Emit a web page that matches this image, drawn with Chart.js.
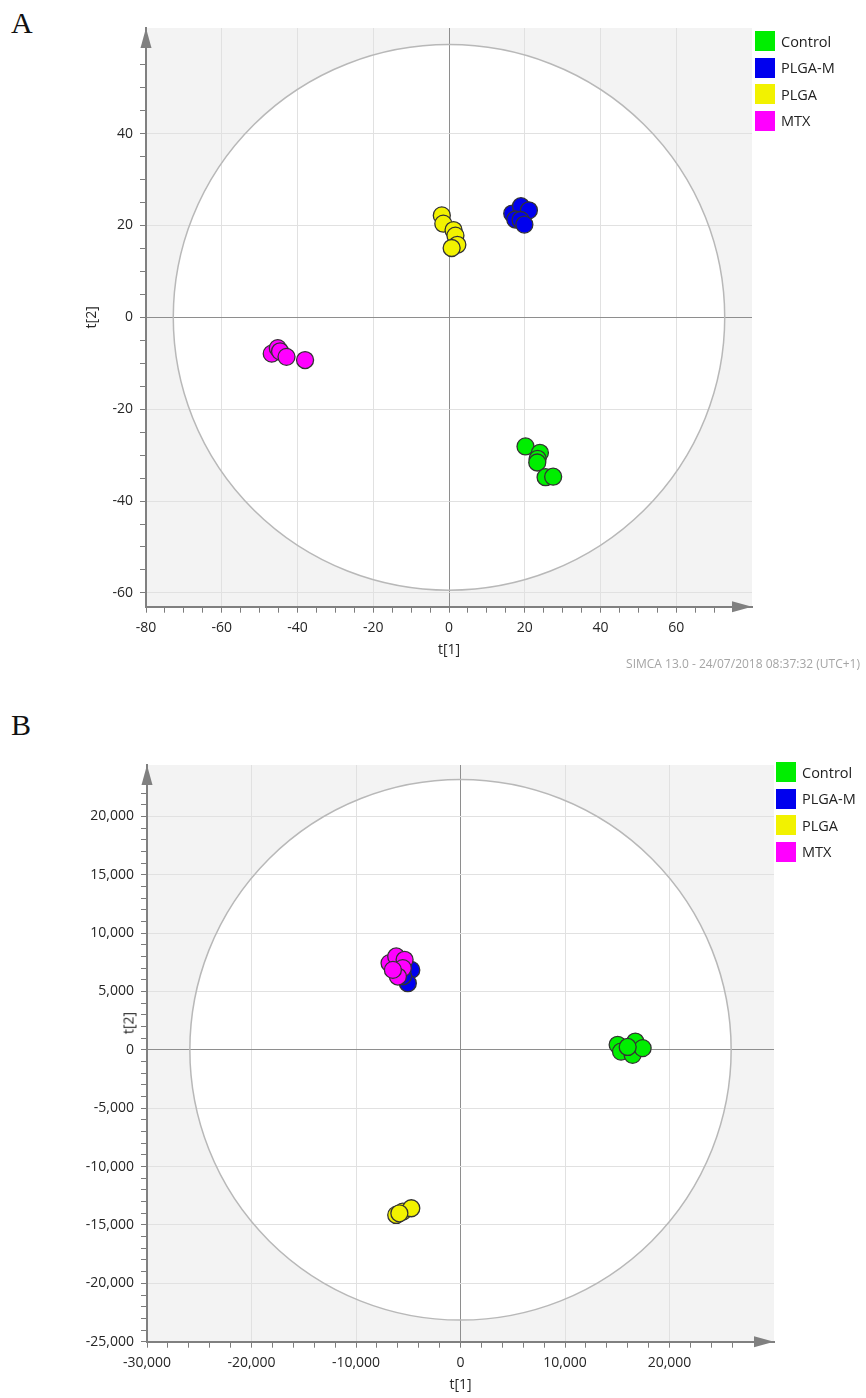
<!DOCTYPE html>
<html>
<head>
<meta charset="utf-8">
<title>SIMCA score plots</title>
<script src="https://cdn.jsdelivr.net/npm/chart.js@4"></script>
<style>
  body { margin: 0; width: 866px; height: 1398px; background: #fff; position: relative; overflow: hidden; font-family: 'Open Sans', sans-serif; }
  canvas { position: absolute; left: 0; }
  .tag { position: absolute; left: 11px; font: 30px 'Liberation Serif', serif; color: #111; line-height: 1; }
  .legend { position: absolute; font-size: 14.5px; color: #222; }
  .legend div { height: 26.5px; display: flex; align-items: center; }
  .legend span { display: inline-block; width: 20px; height: 20px; margin-right: 6px; }
  .stamp { position: absolute; right: 6px; top: 655px; font-size: 12px; color: #a5a5a5; }
  .ytitle { position: absolute; font-size: 14px; color: #262626; transform: translate(-50%, -50%) rotate(-90deg); white-space: nowrap; }
</style>
</head>
<body>
<div class="tag" style="top:8px">A</div>
<div class="tag" style="top:710px">B</div>
<canvas id="chartA" width="866" height="700" style="top:0"></canvas>
<canvas id="chartB" width="866" height="698" style="top:700px"></canvas>
<div class="legend" id="legendA" style="left:755px; top:27.75px"></div>
<div class="legend" id="legendB" style="left:776px; top:758.75px"></div>
<div class="ytitle" style="left:128px; top:1023px">t[2]</div>
<div class="stamp">SIMCA 13.0 - 24/07/2018 08:37:32 (UTC+1)</div>
<script>
// groups and colours
const groups = ['Control', 'PLGA-M', 'PLGA', 'MTX'];
const colors = ['#00ee00', '#0000ee', '#f2f200', '#ff00ff'];

// panel A scores, [t1, t2]
const aControl = [[20.2, -28.1], [24.0, -29.5], [23.4, -30.8], [23.3, -31.6], [25.5, -34.8], [27.5, -34.7]];
const aPlgaM = [[16.7, 22.6], [19.0, 24.2], [21.1, 23.3], [17.5, 21.3], [18.9, 21.2], [19.9, 20.2]];
const aPlga = [[-1.9, 22.2], [-1.5, 20.4], [1.2, 19.0], [1.7, 17.8], [2.2, 15.8], [0.7, 15.1]];
const aMtx = [[-46.8, -7.9], [-45.2, -6.7], [-44.6, -7.4], [-42.9, -8.6], [-38.0, -9.3]];
const aXTicks = [-80, -60, -40, -20, 0, 20, 40, 60];
const aYTicks = [-60, -40, -20, 0, 20, 40];
const aEllipse = [72.8, 59.4];

// panel B scores, [t1, t2]
const bControl = [[15040, 430], [15360, -150], [16470, -430], [16730, 710], [17430, 150], [16000, 250]];
const bPlgaM = [[-4710, 6850], [-5040, 5710], [-5500, 6300]];
const bPlga = [[-6150, -14140], [-5520, -13860], [-4710, -13570], [-5850, -14000]];
const bMtx = [[-6790, 7430], [-6150, 8000], [-5350, 7710], [-5520, 7000], [-5990, 6280], [-6470, 6850]];
const bXTicks = [-30000, -20000, -10000, 0, 10000, 20000];
const bYTicks = [-25000, -20000, -15000, -10000, -5000, 0, 5000, 10000, 15000, 20000];
const bEllipse = [25900, 23150];

function ellipsePath(ctx, x, y, r) {
  const cx = x.getPixelForValue(0), cy = y.getPixelForValue(0);
  ctx.beginPath();
  ctx.ellipse(cx, cy, Math.abs(x.getPixelForValue(r[0]) - cx), Math.abs(y.getPixelForValue(r[1]) - cy), 0, 0, 2 * Math.PI);
}

// grey plot area, white hotelling ellipse, axis arrows
const simcaLook = {
  id: 'simcaLook',
  beforeDraw(chart, args, o) {
    const { ctx, chartArea: a, scales: { x, y } } = chart;
    ctx.save();
    ctx.fillStyle = '#f3f3f3';
    ctx.fillRect(a.left, a.top, a.right - a.left, a.bottom - a.top);
    ellipsePath(ctx, x, y, o.r);
    ctx.fillStyle = '#fff';
    ctx.fill();
    ctx.restore();
  },
  beforeDatasetsDraw(chart, args, o) {
    const { ctx, scales: { x, y } } = chart;
    ctx.save();
    ellipsePath(ctx, x, y, o.r);
    ctx.strokeStyle = '#b8b8b8';
    ctx.lineWidth = 1.5;
    ctx.stroke();
    ctx.restore();
  },
  afterDraw(chart) {
    const { ctx, chartArea: a } = chart;
    ctx.save();
    ctx.fillStyle = '#808080';
    ctx.beginPath();
    ctx.moveTo(a.left, a.top);
    ctx.lineTo(a.left - 5.5, a.top + 20);
    ctx.lineTo(a.left + 5.5, a.top + 20);
    ctx.fill();
    ctx.beginPath();
    ctx.moveTo(a.right, a.bottom);
    ctx.lineTo(a.right - 20, a.bottom - 5.5);
    ctx.lineTo(a.right - 20, a.bottom + 5.5);
    ctx.fill();
    ctx.restore();
  }
};

function axis(o) {
  const fmt = v => o.comma ? v.toLocaleString('en-US') : String(v);
  const near = (v, list) => list.some(t => Math.abs(t - v) < 1e-6);
  const minor = o.minor || o.step;
  return {
    type: 'linear',
    position: o.pos,
    min: o.min,
    max: o.max,
    afterFit: s => { if (o.pos === 'left') s.width = o.size; else s.height = o.size; },
    border: { color: '#808080', width: 2 },
    grid: {
      lineWidth: 1,
      tickLength: 6,
      color: c => !c.tick ? 'rgba(0,0,0,0)' : Math.abs(c.tick.value) < 1e-6 ? '#8e8e8e'
        : (near(c.tick.value, o.ticks) && c.tick.value !== o.min ? '#e1e1e1' : 'rgba(0,0,0,0)'),
      tickColor: c => c.tick && c.tick.value <= o.cut && Math.abs(c.tick.value / minor - Math.round(c.tick.value / minor)) < 1e-6
        ? '#7c7c7c' : 'rgba(0,0,0,0)'
    },
    ticks: {
      stepSize: o.step,
      autoSkip: false,
      includeBounds: false,
      maxRotation: 0,
      padding: 7,
      color: '#262626',
      font: { family: 'Open Sans', size: 14 },
      callback: v => near(v, o.ticks) ? fmt(v) : ''
    },
    title: {
      display: !!o.title,
      text: o.title,
      color: '#262626',
      padding: 0,
      font: { family: 'Open Sans', size: 14 }
    }
  };
}

function scoreChart(id, sets, r, xo, yo, padding) {
  return new Chart(document.getElementById(id), {
    type: 'scatter',
    data: {
      datasets: sets.map((pts, i) => ({
        label: groups[i],
        data: pts.map(p => ({ x: p[0], y: p[1] })),
        backgroundColor: colors[i],
        borderColor: '#333',
        borderWidth: 1.3,
        pointRadius: 8.5,
        order: sets.length - i
      }))
    },
    options: {
      responsive: false,
      animation: false,
      layout: { padding },
      plugins: { legend: { display: false }, tooltip: { enabled: false }, simcaLook: { r } },
      scales: { x: axis(xo), y: axis(yo) }
    },
    plugins: [simcaLook]
  });
}

scoreChart('chartA', [aControl, aPlgaM, aPlga, aMtx], aEllipse,
  { pos: 'bottom', min: -80, max: 80, step: 5, cut: 72, ticks: aXTicks, title: 't[1]', size: 52 },
  { pos: 'left', min: -63, max: 63, step: 5, cut: 57, ticks: aYTicks, title: 't[2]', size: 62 },
  { left: 84, right: 114, top: 28, bottom: 41.3 });

// B's y title sits beside the labels (html element above)
scoreChart('chartB', [bControl, bPlgaM, bPlga, bMtx], bEllipse,
  { pos: 'bottom', min: -30000, max: 30000, step: 2000, cut: 27000, ticks: bXTicks, title: 't[1]', comma: true, size: 52 },
  { pos: 'left', min: -25000, max: 24400, step: 200, minor: 1000, cut: 22500, ticks: bYTicks, title: '', comma: true, size: 147 },
  { left: 0, right: 92, top: 65, bottom: 4.3 });

// legends
['legendA', 'legendB'].forEach(id => {
  const box = document.getElementById(id);
  groups.forEach((g, i) => {
    const row = document.createElement('div');
    row.innerHTML = '<span style="background:' + colors[i] + '"></span>' + g;
    box.appendChild(row);
  });
});
</script>
</body>
</html>
